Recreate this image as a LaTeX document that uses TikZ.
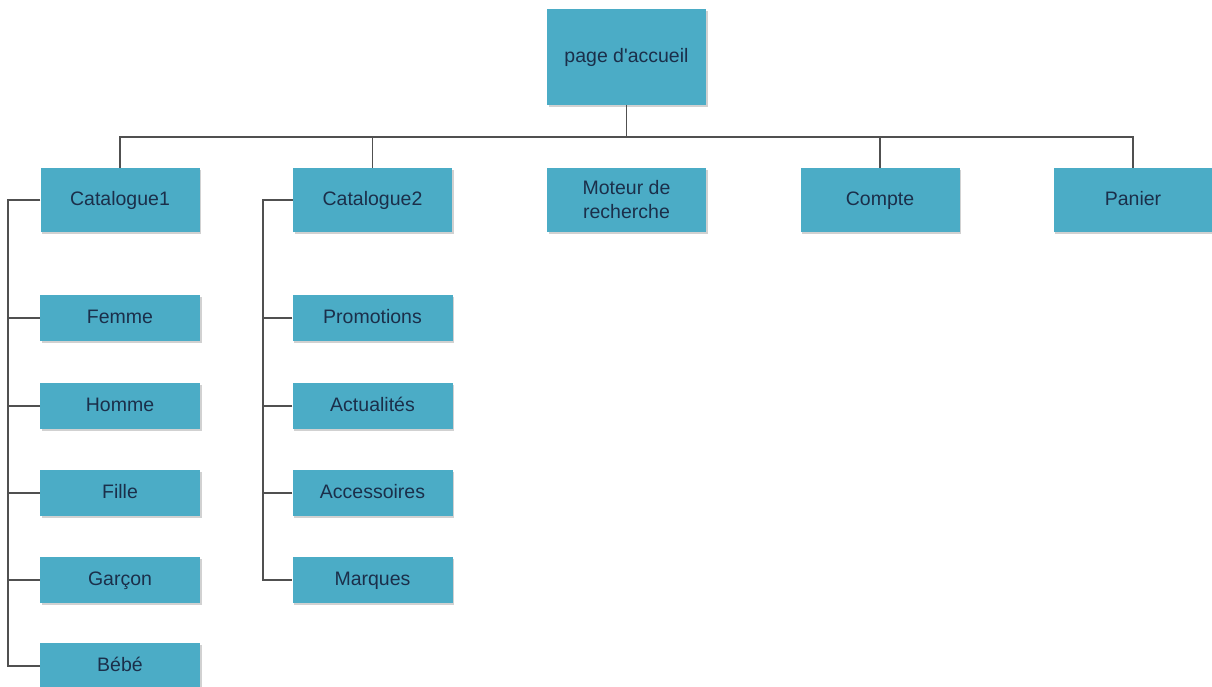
\documentclass[tikz,border=0pt]{standalone}
\usepackage{fontspec}
\setmainfont{Liberation Sans}
\usetikzlibrary{shadows}
\definecolor{boxfill}{HTML}{4BACC6}
\definecolor{boxtext}{HTML}{1B2F4A}
\definecolor{wire}{HTML}{505050}
\tikzset{
  card/.style={rectangle, fill=boxfill, text=boxtext, align=center,
    font=\fontsize{19.5}{24}\selectfont, inner sep=0pt,
    drop shadow={shadow xshift=1.5pt, shadow yshift=-1.5pt, fill=black, opacity=0.18}},
  oneline/.style={text height=14pt, text depth=4pt},
  topcard/.style={card, oneline, minimum width=159pt, minimum height=96pt},
  headcard/.style={card, minimum width=159pt, minimum height=64pt},
  leafcard/.style={card, oneline, minimum width=160pt, minimum height=46pt},
  link/.style={draw=wire, line width=1.2pt}
}
\begin{document}
\begin{tikzpicture}[x=1pt, y=-1pt]
\useasboundingbox[fill=white] (0,0) rectangle (1212,686);

% root
\node[topcard] (home) at (626.5,57) {page d\textquotesingle accueil};

% first level
\node[headcard, oneline] (cat1) at (120,200)   {Catalogue1};
\node[headcard, oneline] (cat2) at (372.5,200) {Catalogue2};
\node[headcard] (search)        at (626.5,200) {Moteur de\\recherche};
\node[headcard, oneline] (acct) at (880,200)   {Compte};
\node[headcard, oneline] (cart) at (1133,200)  {Panier};

% Catalogue1 entries
\node[leafcard] (femme)  at (120,318) {Femme};
\node[leafcard] (homme)  at (120,406) {Homme};
\node[leafcard] (fille)  at (120,493) {Fille};
\node[leafcard] (garcon) at (120,580) {Garçon};
\node[leafcard] (bebe)   at (120,666) {Bébé};

% Catalogue2 entries
\node[leafcard] (promo)  at (372.5,318) {Promotions};
\node[leafcard] (news)   at (372.5,406) {Actualités};
\node[leafcard] (acc)    at (372.5,493) {Accessoires};
\node[leafcard] (brands) at (372.5,580) {Marques};

% bus under the root
\coordinate (bus) at (626.5,137);
\draw[link] (home.south) -- (bus);
\draw[link] (cat1.north) |- (bus) -| (cart.north);
\foreach \n in {cat2,acct}
  \draw[link] (\n.north) -- (\n.north |- bus);

% Catalogue1 rail
\coordinate (railA) at (8,200);
\draw[link] (cat1.west) -- (railA) |- (bebe.west);
\foreach \n in {femme,homme,fille,garcon}
  \draw[link] (\n.west) -- (\n.west -| railA);

% Catalogue2 rail
\coordinate (railB) at (263,200);
\draw[link] (cat2.west) -- (railB) |- (brands.west);
\foreach \n in {promo,news,acc}
  \draw[link] (\n.west) -- (\n.west -| railB);
\end{tikzpicture}
\end{document}
